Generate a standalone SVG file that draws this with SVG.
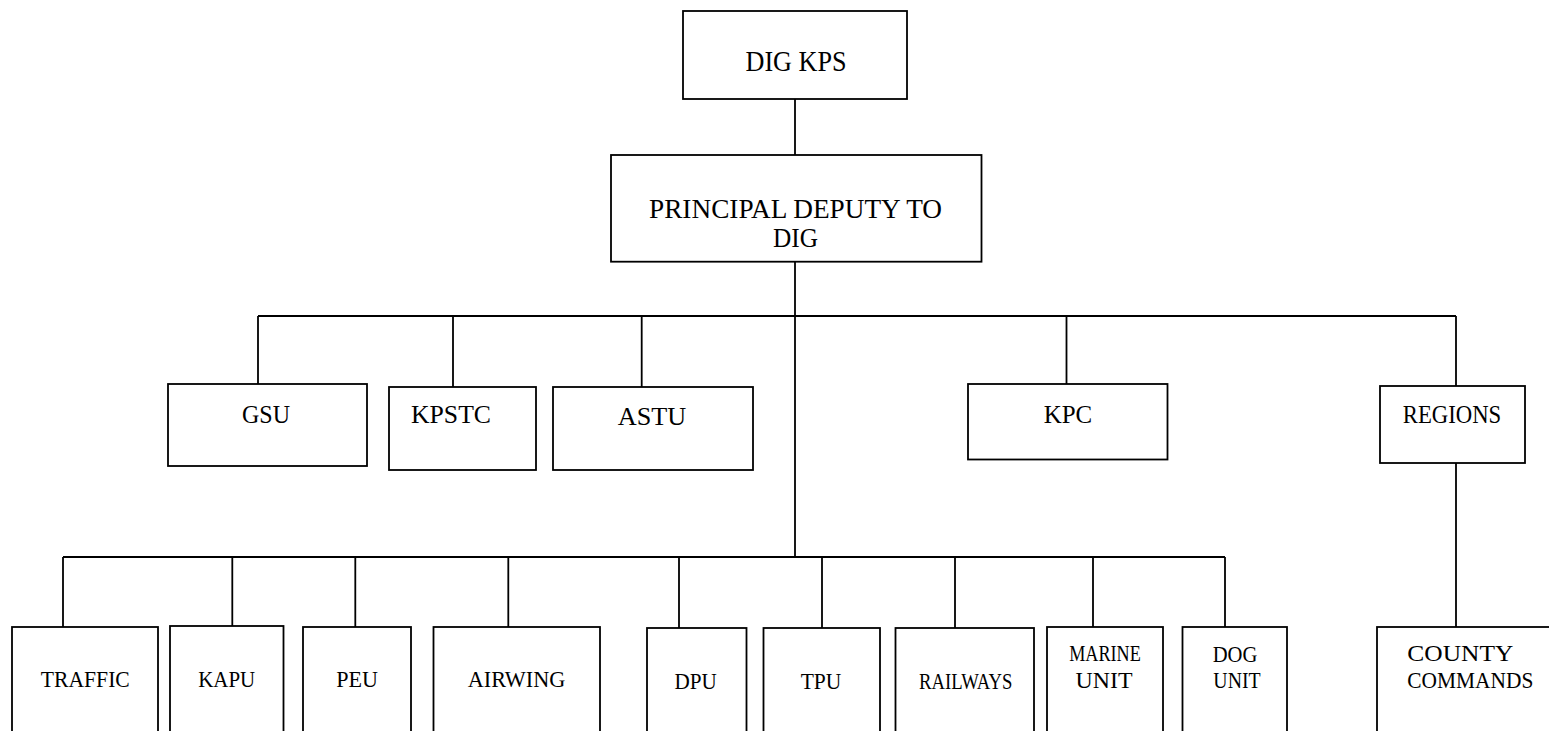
<svg xmlns="http://www.w3.org/2000/svg" width="1549" height="731" viewBox="0 0 1549 731">
<style>
.box{fill:#fff;stroke:#000;stroke-width:1.8}
.ln{fill:none;stroke:#000;stroke-width:1.8}
text{font-family:"Liberation Serif","Times New Roman",serif;fill:#000;text-anchor:middle}
.t1{font-size:30px}
.t2{font-size:28px}
.t3{font-size:26px}
.t4{font-size:24px}
</style>
<rect width="1549" height="731" fill="#fff"/>
<g id="connectors">
<path class="ln" d="M795 99V155M795 261.7V557M258 316H1456M258 316V384M453 316V387M641.7 316V387M1066.5 316V384M1456 316V386M1456 463V627M63 557H1225M63 557V627M232.3 557V626M355.3 557V627M508.3 557V627M679 557V628M822 557V628M955 557V628M1093 557V627M1225 557V627"/>
</g>
<g id="dig-kps"><rect class="box" x="683" y="11" width="224" height="88"/><text class="t1" x="796" y="70.5" textLength="101" lengthAdjust="spacingAndGlyphs">DIG KPS</text></g>
<g id="principal-deputy"><rect class="box" x="611" y="155" width="370.5" height="106.7"/><text class="t2" x="795.5" y="218" textLength="293" lengthAdjust="spacingAndGlyphs">PRINCIPAL DEPUTY TO</text><text class="t2" x="795.5" y="246.5" textLength="45" lengthAdjust="spacingAndGlyphs">DIG</text></g>
<g id="gsu"><rect class="box" x="168" y="384" width="199" height="82"/><text class="t3" x="266" y="423" textLength="48" lengthAdjust="spacingAndGlyphs">GSU</text></g>
<g id="kpstc"><rect class="box" x="389" y="387" width="147" height="83"/><text class="t3" x="451" y="423" textLength="80" lengthAdjust="spacingAndGlyphs">KPSTC</text></g>
<g id="astu"><rect class="box" x="553" y="387" width="200" height="83"/><text class="t3" x="652" y="425" textLength="68.5" lengthAdjust="spacingAndGlyphs">ASTU</text></g>
<g id="kpc"><rect class="box" x="968" y="384" width="199.5" height="75.5"/><text class="t3" x="1068" y="423" textLength="48.5" lengthAdjust="spacingAndGlyphs">KPC</text></g>
<g id="regions"><rect class="box" x="1380" y="386" width="145" height="77"/><text class="t3" x="1452" y="423" textLength="98.5" lengthAdjust="spacingAndGlyphs">REGIONS</text></g>
<g id="traffic"><rect class="box" x="12" y="627" width="146" height="120"/><text class="t4" x="85.3" y="687" textLength="89" lengthAdjust="spacingAndGlyphs">TRAFFIC</text></g>
<g id="kapu"><rect class="box" x="170" y="626" width="113.5" height="120"/><text class="t4" x="226.7" y="687" textLength="57" lengthAdjust="spacingAndGlyphs">KAPU</text></g>
<g id="peu"><rect class="box" x="303" y="627" width="108" height="120"/><text class="t4" x="357" y="687" textLength="41.7" lengthAdjust="spacingAndGlyphs">PEU</text></g>
<g id="airwing"><rect class="box" x="433.5" y="627" width="166.5" height="120"/><text class="t4" x="516.5" y="687" textLength="97.6" lengthAdjust="spacingAndGlyphs">AIRWING</text></g>
<g id="dpu"><rect class="box" x="647" y="628" width="99.5" height="120"/><text class="t4" x="695.7" y="689" textLength="42.3" lengthAdjust="spacingAndGlyphs">DPU</text></g>
<g id="tpu"><rect class="box" x="763.5" y="628" width="116.5" height="120"/><text class="t4" x="821" y="689" textLength="40.7" lengthAdjust="spacingAndGlyphs">TPU</text></g>
<g id="railways"><rect class="box" x="895.5" y="628" width="138.5" height="120"/><text class="t4" x="965.8" y="689" textLength="93.4" lengthAdjust="spacingAndGlyphs">RAILWAYS</text></g>
<g id="marine-unit"><rect class="box" x="1047" y="627" width="116" height="120"/><text class="t4" x="1105" y="661" textLength="71.6" lengthAdjust="spacingAndGlyphs">MARINE</text><text class="t4" x="1104" y="688" textLength="57" lengthAdjust="spacingAndGlyphs">UNIT</text></g>
<g id="dog-unit"><rect class="box" x="1182.5" y="627" width="104.5" height="120"/><text class="t4" x="1235" y="661.7" textLength="44.7" lengthAdjust="spacingAndGlyphs">DOG</text><text class="t4" x="1237" y="688.3" textLength="47.3" lengthAdjust="spacingAndGlyphs">UNIT</text></g>
<g id="county-commands"><rect class="box" x="1377" y="627" width="190" height="120"/><text class="t4" x="1460.3" y="660.7" textLength="106" lengthAdjust="spacingAndGlyphs">COUNTY</text><text class="t4" x="1470.3" y="688.3" textLength="126" lengthAdjust="spacingAndGlyphs">COMMANDS</text></g>
</svg>
